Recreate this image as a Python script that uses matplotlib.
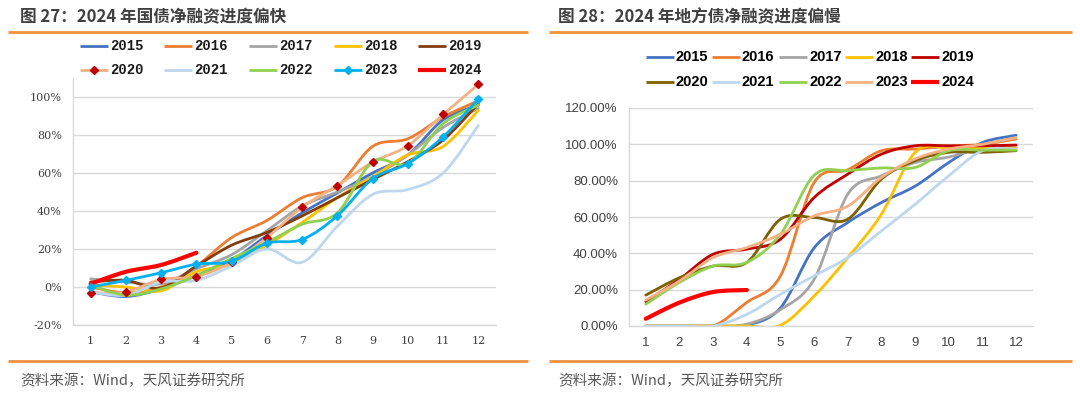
import numpy as np
import matplotlib
matplotlib.use("Agg")
import matplotlib.pyplot as plt
from matplotlib.path import Path
from matplotlib.patches import PathPatch

# ---------------- data ----------------
months = list(range(1, 13))
years = ["2015", "2016", "2017", "2018", "2019", "2020", "2021", "2022", "2023", "2024"]

# 国债净融资进度 (%)
gz_2015 = [-2.6, -5, -1, 6, 14, 27, 39, 49.5, 60, 69.5, 88, 95.7]
gz_2016 = [0, -3, 0, 11, 26, 35, 47, 53, 74, 78, 89.5, 98]
gz_2017 = [4.3, 2.6, 1.7, 9.6, 17, 29.6, 42.6, 50, 58, 69.5, 84, 94]
gz_2018 = [1, 0, -2, 8, 12, 22, 34, 47, 58, 69.5, 74, 93]
gz_2019 = [2.6, 3.5, -0.5, 11, 22, 28.7, 37.4, 47, 56.5, 66, 77.4, 96.5]
gz_2020 = [-3, -2.6, 4, 5.5, 13, 26, 42, 53.4, 65.7, 74.4, 90.8, 106.6]
gz_2021 = [-2.6, -4.3, 2.6, 3.5, 11, 20, 13, 32, 48.7, 51.3, 60, 85]
gz_2022 = [1, -4.3, -1, 6, 15, 23.5, 33, 39, 66, 65, 86, 95.7]
gz_2023 = [0, 3.5, 7.5, 12, 13.5, 23, 25, 37.5, 57, 65, 79, 99]
gz_2024 = [1.7, 8, 11.6, 18]

# 地方债净融资进度 (%)
df_2015 = [0, 0, 0, 0.5, 10, 43, 57, 68, 77, 90, 101, 105]
df_2016 = [0, 0, 0, 13, 27.6, 79, 86, 96.5, 97.4, 99, 100, 103]
df_2017 = [0, 0, 0, 1, 9, 25.7, 72.6, 82.7, 90, 93, 98, 98]
df_2018 = [0, 0, 0, 0, 0.4, 16.5, 37.7, 61.6, 95.6, 98, 98, 98]
df_2019 = [13.4, 25.7, 39.5, 42.3, 47.8, 70.7, 83.6, 94.6, 99.2, 99.2, 99.2, 99.6]
df_2020 = [17, 26.6, 33, 35, 58.8, 59.7, 58.8, 80.9, 91, 95.6, 95.6, 96.5]
df_2021 = [0, 0, 0, 6.4, 17.5, 27.6, 37.7, 52.4, 67, 82.7, 96.5, 97.4]
df_2022 = [12, 24, 33, 35, 50.5, 83, 85.5, 87, 87.3, 96.5, 96.8, 96.8]
df_2023 = [14.3, 24.8, 37.7, 43.2, 50.5, 60.6, 66, 81.8, 92, 97.4, 100, 103.8]
df_2024 = [4, 12.9, 18.7, 19.8]

left_ticks = [-20, 0, 20, 40, 60, 80, 100]
right_ticks = [0, 20, 40, 60, 80, 100, 120]

title_left = "图 27：2024 年国债净融资进度偏快"
title_right = "图 28：2024 年地方债净融资进度偏慢"
source = "资料来源：Wind，天风证券研究所"

# ---------------- styles ----------------
left_series = [gz_2015, gz_2016, gz_2017, gz_2018, gz_2019, gz_2020, gz_2021, gz_2022, gz_2023, gz_2024]
right_series = [df_2015, df_2016, df_2017, df_2018, df_2019, df_2020, df_2021, df_2022, df_2023, df_2024]
left_colors = ["#4472C4", "#ED7D31", "#A5A5A5", "#FFC000", "#843C0C",
               "#F4B183", "#BDD7EE", "#8FD14F", "#00B0F0", "#FF0000"]
left_markers = [None, None, None, None, None, ("D", "#C00000"), None, None, ("D", "#00B0F0"), None]
right_colors = ["#4472C4", "#ED7D31", "#A5A5A5", "#FFC000", "#C00000",
                "#7F6000", "#BDD7EE", "#92D050", "#F4B183", "#FF0000"]

ORANGE = "#F0913F"
W, H = 1080, 397

fig = plt.figure(figsize=(W / 100, H / 100), dpi=100)


def rect(x0, y0, x1, y1):
    return [x0 / W, 1 - y1 / H, (x1 - x0) / W, (y1 - y0) / H]


def smooth_path(xs, ys, t=1 / 6):
    xs = np.asarray(xs, float)
    ys = np.asarray(ys, float)
    n = len(xs)
    verts = [(xs[0], ys[0])]
    codes = [Path.MOVETO]
    for i in range(n - 1):
        p0 = np.array([xs[max(i - 1, 0)], ys[max(i - 1, 0)]])
        p1 = np.array([xs[i], ys[i]])
        p2 = np.array([xs[i + 1], ys[i + 1]])
        p3 = np.array([xs[min(i + 2, n - 1)], ys[min(i + 2, n - 1)]])
        c1 = p1 + (p2 - p0) * t
        c2 = p2 - (p3 - p1) * t
        verts += [tuple(c1), tuple(c2), tuple(p2)]
        codes += [Path.CURVE4] * 3
    return Path(verts, codes)


def draw_series(ax, series, colors, markers, lws):
    for vals, c, mk, lw in zip(series, colors, markers, lws):
        xs = months[:len(vals)]
        ax.add_patch(PathPatch(smooth_path(xs, vals), fill=False, edgecolor=c,
                               lw=lw, capstyle="round", joinstyle="round"))
        if mk is not None:
            ax.plot(xs, vals, ls="none", marker=mk[0], color=mk[1], ms=4.5)


def style_axes(ax, ticks, fmt, fontprops):
    ax.set_xlim(0.5, 12.5)
    ax.set_xticks(months)
    ax.set_xticklabels([str(m) for m in months], **fontprops)
    ax.set_yticks(ticks)
    ax.set_yticklabels([fmt(v) for v in ticks], **fontprops)
    ax.grid(axis="y", color="#D9D9D9", lw=1)
    ax.set_axisbelow(True)
    for s in ["top", "right"]:
        ax.spines[s].set_visible(False)
    for s in ["left", "bottom"]:
        ax.spines[s].set_color("#D9D9D9")
        ax.spines[s].set_linewidth(1)
    ax.tick_params(length=0, pad=8, colors="#404040")


# ---------------- left chart ----------------
axL = fig.add_axes(rect(73, 78, 496, 325))
axL.set_ylim(-20, 110)
style_axes(axL, left_ticks, lambda v: f"{v}%",
           dict(fontfamily="DejaVu Serif", fontsize=8))
draw_series(axL, left_series, left_colors, left_markers, [2] * 9 + [3])

# ---------------- right chart ----------------
axR = fig.add_axes(rect(629, 108, 1033, 326))
axR.set_ylim(0, 120)
style_axes(axR, right_ticks, lambda v: f"{v:.2f}%",
           dict(fontfamily="Liberation Sans", fontsize=9.5))
draw_series(axR, right_series, right_colors, [None] * 10, [2] * 9 + [3])

# ---------------- overlay: titles, legends, footers ----------------
ov = fig.add_axes([0, 0, 1, 1])
ov.set_xlim(0, W)
ov.set_ylim(H, 0)
ov.axis("off")

cjk = ["Noto Sans CJK SC", "DejaVu Sans"]
ov.text(20, 17, title_left, fontfamily=cjk, fontsize=12, fontweight="bold",
        color="#404040", va="center", ha="left")
ov.text(558, 17, title_right, fontfamily=cjk, fontsize=12, fontweight="bold",
        color="#404040", va="center", ha="left")
ov.plot([8, 528], [32, 32], color=ORANGE, lw=2, solid_capstyle="butt")
ov.plot([549, 1072], [32, 32], color=ORANGE, lw=2, solid_capstyle="butt")
ov.plot([8, 528], [361, 361], color=ORANGE, lw=2, solid_capstyle="butt")
ov.plot([549, 1072], [361, 361], color=ORANGE, lw=2, solid_capstyle="butt")
ov.text(20, 381, source, fontfamily=cjk, fontsize=10.5, color="#595959", va="center")
ov.text(558, 381, source, fontfamily=cjk, fontsize=10.5, color="#595959", va="center")

# left legend
lx = [80, 164, 249, 334, 418]
ly = [46, 70]
for i, (yr, c, mk) in enumerate(zip(years, left_colors, left_markers)):
    x0 = lx[i % 5]
    y0 = ly[i // 5]
    lw = 3 if yr == "2024" else 2
    ov.plot([x0, x0 + 28], [y0, y0], color=c, lw=lw, solid_capstyle="butt")
    if mk is not None:
        ov.plot([x0 + 14], [y0], ls="none", marker=mk[0], color=mk[1], ms=4.5)
    ov.text(x0 + 30, y0, yr, fontfamily="Liberation Mono", fontweight="bold",
            fontsize=10, color="#1a1a1a", va="center", ha="left")

# right legend
rx = [646, 712, 779, 845, 911]
ry = [57, 82]
for i, (yr, c) in enumerate(zip(years, right_colors)):
    x0 = rx[i % 5]
    y0 = ry[i // 5]
    lw = 3 if yr == "2024" else 2
    ov.plot([x0, x0 + 28], [y0, y0], color=c, lw=lw, solid_capstyle="butt")
    ov.text(x0 + 30, y0, yr, fontfamily="Liberation Sans", fontweight="bold",
            fontsize=10.5, color="#000000", va="center", ha="left")

fig.savefig("out.png", dpi=100)
